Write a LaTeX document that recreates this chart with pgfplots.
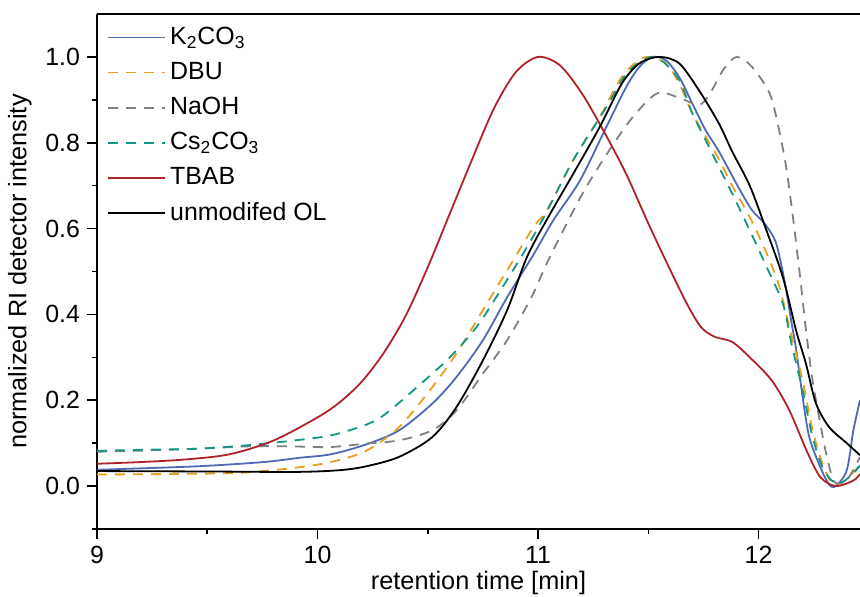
\documentclass[border=0pt]{standalone}
\usepackage{fontspec}
\setmainfont{Liberation Sans}
\usepackage{pgfplots}
\pgfplotsset{compat=1.18}

\definecolor{kblue}{HTML}{5069B4}
\definecolor{dbuorange}{HTML}{E6A01E}
\definecolor{nagray}{HTML}{808080}
\definecolor{csteal}{HTML}{149687}
\definecolor{tbred}{HTML}{AF2328}

\begin{document}
\begin{tikzpicture}
\begin{axis}[
    scale only axis,
    width=381.5bp,
    height=257.5bp,
    xmin=9, xmax=12.46,
    ymin=-0.1, ymax=1.1,
    axis x line=box,
    axis y line=left,
    y axis line style={-},
    axis line style={line width=1bp},
    xtick={9,10,11,12},
    minor xtick={9.5,10.5,11.5},
    ytick={0,0.2,0.4,0.6,0.8,1.0},
    minor ytick={-0.1,0.1,0.3,0.5,0.7,0.9},
    xtick pos=bottom,
    tick align=outside,
    major tick length=5bp,
    minor tick length=2.5bp,
    every tick/.style={black, line width=0.8bp},
    yticklabel style={/pgf/number format/.cd, fixed, fixed zerofill, precision=1},
    /pgf/number format/assume math mode=true,
    tick label style={font=\fontsize{12.5}{14}\selectfont},
    label style={font=\fontsize{12.7}{14}\selectfont},
    xlabel={retention time [min]},
    xlabel style={yshift=3bp},
    ylabel={normalized RI detector intensity},
    legend cell align=left,
    legend style={draw=none, fill=none, at={(rel axis cs:0,1)}, anchor=north west,
        xshift=2bp, yshift=-2.5bp,
        font=\fontsize{12.5}{14}\selectfont,
        row sep=3.4bp},
    legend image code/.code={\draw[#1] (0bp,0bp) -- (28.5bp,0bp);},
    every axis plot/.append style={line width=0.9bp, smooth},
]

\addplot[kblue] coordinates {
(9.0,0.038) (9.45,0.046) (9.755,0.056) (9.92,0.066) (10.06,0.074) (10.22,0.097)
(10.37,0.13) (10.52,0.192) (10.63,0.254) (10.75,0.34) (10.86,0.44) (10.98,0.54)
(11.07,0.62) (11.19,0.712) (11.31,0.837) (11.40,0.93) (11.46,0.977) (11.52,1.0)
(11.58,0.992) (11.64,0.953) (11.70,0.891) (11.76,0.829) (11.82,0.78) (11.91,0.695)
(11.97,0.643) (12.03,0.61) (12.08,0.565) (12.12,0.472) (12.15,0.379) (12.17,0.32)
(12.20,0.207) (12.23,0.114) (12.28,0.044) (12.32,0.004) (12.35,0.0) (12.40,0.037)
(12.43,0.13) (12.46,0.2)
};
\addlegendentry{K\textsubscript{2}CO\textsubscript{3}}

\addplot[dbuorange, dash pattern=on 5bp off 4bp] coordinates {
(9.0,0.027) (9.3,0.028) (9.6,0.030) (9.755,0.035) (9.92,0.044) (10.06,0.056)
(10.22,0.082) (10.37,0.1375) (10.52,0.23) (10.63,0.309) (10.75,0.41) (10.86,0.503)
(10.98,0.604) (11.04,0.643) (11.16,0.76) (11.28,0.86) (11.37,0.946) (11.445,0.988)
(11.50,1.0) (11.58,0.985) (11.64,0.938) (11.70,0.868) (11.76,0.814) (11.82,0.762)
(11.88,0.70) (11.96,0.627) (12.03,0.55) (12.09,0.472) (12.14,0.37) (12.20,0.246)
(12.245,0.13) (12.29,0.052) (12.33,0.009) (12.37,0.006) (12.41,0.021) (12.46,0.05)
};
\addlegendentry{DBU}

\addplot[nagray, dash pattern=on 5bp off 4bp] coordinates {
(9.0,0.08) (9.23,0.083) (9.45,0.087) (9.68,0.0925) (9.8,0.093) (9.92,0.092)
(10.06,0.091) (10.22,0.099) (10.37,0.1065) (10.52,0.13) (10.63,0.176) (10.75,0.262)
(10.86,0.34) (10.97,0.44) (11.05,0.53) (11.20,0.68) (11.32,0.78) (11.43,0.86)
(11.54,0.915) (11.64,0.905) (11.73,0.888) (11.78,0.915) (11.84,0.97) (11.90,1.0)
(11.97,0.977) (12.05,0.915) (12.09,0.837) (12.125,0.744) (12.155,0.63) (12.19,0.48)
(12.215,0.363) (12.245,0.246) (12.28,0.145) (12.31,0.068) (12.34,0.013) (12.37,0.006)
(12.41,0.021) (12.46,0.068)
};
\addlegendentry{NaOH}

\addplot[csteal, dash pattern=on 5bp off 4bp] coordinates {
(9.0,0.082) (9.23,0.085) (9.45,0.087) (9.68,0.095) (9.906,0.107) (10.06,0.118)
(10.21,0.141) (10.30,0.165) (10.45,0.23) (10.60,0.30) (10.72,0.37) (10.83,0.456)
(10.95,0.557) (11.04,0.64) (11.16,0.76) (11.31,0.883) (11.40,0.961) (11.49,0.996)
(11.55,0.996) (11.64,0.946) (11.70,0.868) (11.76,0.806) (11.82,0.744) (11.88,0.682)
(11.96,0.596) (12.03,0.518) (12.11,0.425) (12.15,0.33) (12.20,0.223) (12.245,0.114)
(12.29,0.044) (12.34,0.009) (12.38,0.009) (12.43,0.03) (12.46,0.048)
};
\addlegendentry{Cs\textsubscript{2}CO\textsubscript{3}}

\addplot[tbred] coordinates {
(9.0,0.052) (9.2,0.056) (9.4,0.062) (9.6,0.074) (9.8,0.106) (10.0,0.16)
(10.1,0.195) (10.2,0.243) (10.3,0.31) (10.4,0.397) (10.5,0.51) (10.6,0.635)
(10.7,0.76) (10.8,0.88) (10.9,0.965) (11.0,1.0) (11.1,0.98) (11.2,0.914)
(11.3,0.825) (11.4,0.727) (11.5,0.612) (11.6,0.503) (11.68,0.42) (11.74,0.37)
(11.8,0.348) (11.88,0.336) (11.96,0.30) (12.06,0.246) (12.14,0.176) (12.22,0.08)
(12.28,0.021) (12.35,0.0) (12.43,0.013) (12.46,0.028)
};
\addlegendentry{TBAB}

\addplot[black] coordinates {
(9.0,0.035) (9.5,0.034) (9.9,0.033) (10.1,0.037) (10.22,0.046) (10.37,0.068)
(10.52,0.114) (10.63,0.184) (10.75,0.293) (10.86,0.41) (10.95,0.534) (11.05,0.63)
(11.16,0.728) (11.28,0.837) (11.38,0.938) (11.46,0.985) (11.55,1.0) (11.64,0.985)
(11.73,0.922) (11.82,0.845) (11.88,0.78) (11.96,0.70) (12.03,0.604) (12.11,0.487)
(12.17,0.363) (12.215,0.285) (12.26,0.193) (12.32,0.1375) (12.40,0.10) (12.46,0.072)
};
\addlegendentry{unmodifed OL}

\coordinate (SW) at (rel axis cs:0,0);
\coordinate (NE) at (rel axis cs:1,1);
\end{axis}
\pgfresetboundingbox
\path[use as bounding box] ([xshift=-48.5bp,yshift=-34bp]SW) rectangle ([yshift=7bp]NE);
\end{tikzpicture}
\end{document}
